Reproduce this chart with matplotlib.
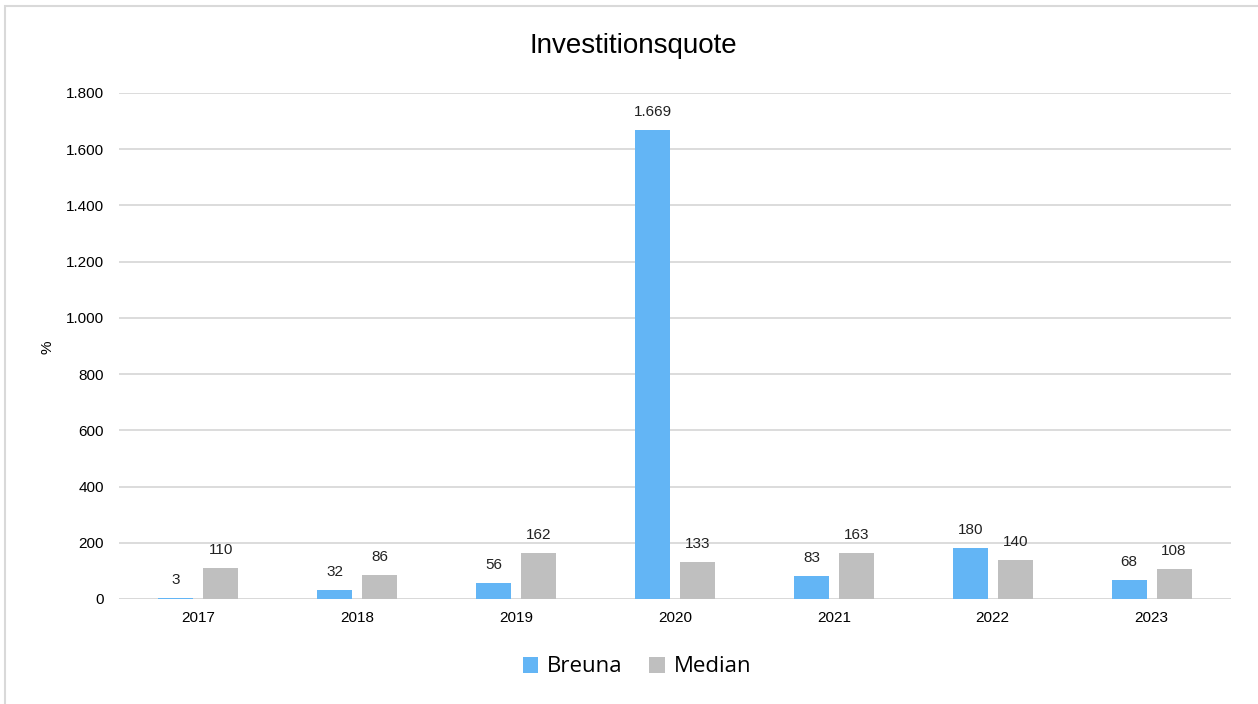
import matplotlib.pyplot as plt
import numpy as np
from matplotlib.patches import Rectangle

# data
years = ['2017', '2018', '2019', '2020', '2021', '2022', '2023']
breuna = [3, 32, 56, 1669, 83, 180, 68]
median = [110, 86, 162, 133, 163, 140, 108]
yticks = [0, 200, 400, 600, 800, 1000, 1200, 1400, 1600, 1800]

blue = '#63b5f5'
grey = '#bfbfbf'

plt.rcParams['font.family'] = ['Liberation Sans', 'DejaVu Sans']

fig = plt.figure(figsize=(12.58, 7.04), dpi=100)
# light frame around the chart area
fig.patches.append(Rectangle((5 / 1258, -0.01), 1.02, 1 - 6 / 704 + 0.01,
                             transform=fig.transFigure, fill=False,
                             edgecolor='#d9d9d9', linewidth=1.5))

ax = fig.add_axes([119 / 1258, 1 - 599 / 704, (1231 - 119) / 1258, (599 - 93) / 704])

x = np.arange(len(years))
w = 0.22
off = 0.1415
b1 = ax.bar(x - off, breuna, w, color=blue, label='Breuna', zorder=3)
b2 = ax.bar(x + off, median, w, color=grey, label='Median', zorder=3)

def fmt(v):
    return f'{v:,}'.replace(',', '.')

for bars, vals in ((b1, breuna), (b2, median)):
    for r, v in zip(bars, vals):
        ax.annotate(fmt(v), (r.get_x() + r.get_width() / 2, v),
                    xytext=(0, 8), textcoords='offset points',
                    ha='center', va='bottom', fontsize=11, color='#222222')

ax.set_xlim(-0.5, len(years) - 0.5)
ax.set_ylim(0, 1800)
ax.set_yticks(yticks)
ax.set_yticklabels([fmt(t) for t in yticks], fontsize=11)
ax.set_xticks(x)
ax.set_xticklabels(years, fontsize=11)
ax.tick_params(length=0, pad=9)
ax.tick_params(axis='y', pad=11)
ax.grid(axis='y', color='#d9d9d9', linewidth=1.3, zorder=0)
for s in ax.spines.values():
    s.set_visible(False)
ax.axhline(0, color='#d9d9d9', linewidth=1.3, zorder=2)

fig.text(47 / 1258, 1 - 347 / 704, '%', rotation=90, ha='center', va='center', fontsize=11)
fig.text(633 / 1258, 1 - 46 / 704, 'Investitionsquote', ha='center', va='center', fontsize=20)

leg = fig.legend(handles=[b1, b2], loc='center', bbox_to_anchor=(637 / 1258, 1 - 667 / 704),
                 ncol=2, frameon=False, prop={'family': 'Open Sans', 'size': 16},
                 handlelength=0.7, handleheight=0.7, handletextpad=0.4, columnspacing=1.2)

plt.savefig('out.png', dpi=100)
